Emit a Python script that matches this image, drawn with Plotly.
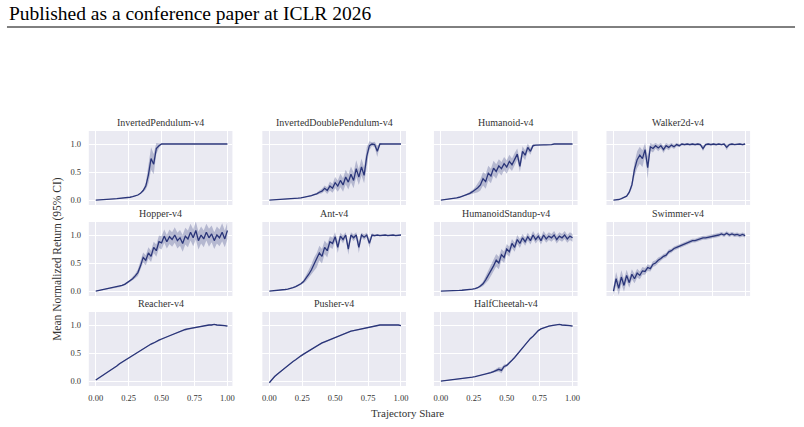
import plotly.graph_objects as go

W, H = 804, 427

X = [0.00, 0.02, 0.04, 0.06, 0.08, 0.10, 0.12, 0.14, 0.16, 0.18,
     0.20, 0.22, 0.24, 0.26, 0.28, 0.30, 0.32, 0.34, 0.36, 0.38,
     0.40, 0.42, 0.44, 0.46, 0.48, 0.50, 0.52, 0.54, 0.56, 0.58,
     0.60, 0.62, 0.64, 0.66, 0.68, 0.70, 0.72, 0.74, 0.76, 0.78,
     0.80, 0.82, 0.84, 0.86, 0.88, 0.90, 0.92, 0.94, 0.96, 0.98,
     1.00]

ENVS = ["InvertedPendulum-v4", "InvertedDoublePendulum-v4", "Humanoid-v4", "Walker2d-v4",
        "Hopper-v4", "Ant-v4", "HumanoidStandup-v4", "Swimmer-v4",
        "Reacher-v4", "Pusher-v4", "HalfCheetah-v4"]

IP_MEAN = [0.000, 0.005, 0.010, 0.012, 0.015, 0.018, 0.020, 0.022, 0.025, 0.028,
           0.032, 0.038, 0.045, 0.050, 0.060, 0.070, 0.090, 0.120, 0.170, 0.250,
           0.450, 0.740, 0.640, 0.920, 0.970, 1.000, 1.000, 1.000, 1.000, 1.000,
           1.000, 1.000, 1.000, 1.000, 1.000, 1.000, 1.000, 1.000, 1.000, 1.000,
           1.000, 1.000, 1.000, 1.000, 1.000, 1.000, 1.000, 1.000, 1.000, 1.000,
           1.000]
IP_CI = [0.000, 0.002, 0.002, 0.002, 0.002, 0.002, 0.003, 0.003, 0.003, 0.003,
         0.004, 0.004, 0.005, 0.005, 0.006, 0.008, 0.010, 0.015, 0.025, 0.060,
         0.150, 0.200, 0.180, 0.100, 0.040, 0.000, 0.000, 0.000, 0.000, 0.000,
         0.000, 0.000, 0.000, 0.000, 0.000, 0.000, 0.000, 0.000, 0.000, 0.000,
         0.000, 0.000, 0.000, 0.000, 0.000, 0.000, 0.000, 0.000, 0.000, 0.000,
         0.000]

IDP_MEAN = [0.000, 0.002, 0.004, 0.006, 0.008, 0.010, 0.013, 0.016, 0.020, 0.024,
            0.028, 0.033, 0.040, 0.047, 0.055, 0.065, 0.080, 0.095, 0.110, 0.140,
            0.160, 0.210, 0.170, 0.250, 0.210, 0.310, 0.250, 0.350, 0.270, 0.410,
            0.320, 0.460, 0.350, 0.560, 0.410, 0.590, 0.440, 0.780, 0.970, 1.000,
            0.990, 0.870, 1.000, 1.000, 1.000, 1.000, 1.000, 1.000, 1.000, 1.000,
            1.000]
IDP_CI = [0.001, 0.002, 0.002, 0.002, 0.002, 0.002, 0.002, 0.002, 0.002, 0.002,
          0.004, 0.004, 0.005, 0.005, 0.006, 0.008, 0.010, 0.015, 0.020, 0.030,
          0.040, 0.050, 0.060, 0.080, 0.080, 0.100, 0.100, 0.120, 0.120, 0.130,
          0.130, 0.140, 0.140, 0.150, 0.140, 0.150, 0.140, 0.160, 0.080, 0.030,
          0.050, 0.100, 0.020, 0.000, 0.000, 0.000, 0.000, 0.000, 0.000, 0.000,
          0.000]

HUM_MEAN = [0.000, 0.005, 0.010, 0.015, 0.022, 0.030, 0.040, 0.050, 0.065, 0.080,
            0.100, 0.120, 0.150, 0.180, 0.220, 0.270, 0.380, 0.330, 0.480, 0.430,
            0.570, 0.510, 0.610, 0.560, 0.650, 0.590, 0.690, 0.630, 0.730, 0.820,
            0.600, 0.870, 0.800, 0.940, 0.870, 0.970, 0.980, 0.985, 0.985, 0.985,
            0.985, 0.985, 0.990, 1.000, 1.000, 1.000, 1.000, 1.000, 1.000, 1.000,
            1.000]
HUM_CI = [0.002, 0.002, 0.003, 0.003, 0.004, 0.005, 0.006, 0.007, 0.008, 0.010,
          0.015, 0.020, 0.030, 0.050, 0.080, 0.100, 0.120, 0.130, 0.130, 0.130,
          0.130, 0.130, 0.120, 0.120, 0.120, 0.120, 0.120, 0.110, 0.110, 0.100,
          0.100, 0.090, 0.090, 0.070, 0.060, 0.030, 0.010, 0.005, 0.005, 0.005,
          0.005, 0.005, 0.005, 0.005, 0.005, 0.005, 0.005, 0.005, 0.005, 0.005,
          0.005]

WAL_MEAN = [0.000, 0.003, 0.010, 0.025, 0.045, 0.070, 0.140, 0.270, 0.550, 0.720,
            0.800, 0.740, 0.900, 0.580, 0.950, 0.920, 0.970, 0.930, 0.970, 0.900,
            0.970, 0.940, 0.980, 0.950, 0.990, 0.970, 1.000, 0.990, 1.000, 0.990,
            1.000, 0.990, 1.000, 0.990, 0.920, 0.990, 1.000, 0.990, 1.000, 0.990,
            1.000, 0.990, 1.000, 0.940, 0.990, 1.000, 0.990, 1.000, 1.000, 0.990,
            1.000]
WAL_CI = [0.002, 0.002, 0.003, 0.004, 0.006, 0.010, 0.030, 0.060, 0.120, 0.150,
          0.150, 0.150, 0.120, 0.200, 0.070, 0.070, 0.050, 0.060, 0.050, 0.060,
          0.050, 0.050, 0.040, 0.040, 0.030, 0.030, 0.020, 0.020, 0.020, 0.020,
          0.020, 0.020, 0.020, 0.020, 0.050, 0.020, 0.020, 0.020, 0.020, 0.020,
          0.015, 0.015, 0.015, 0.050, 0.015, 0.015, 0.015, 0.015, 0.015, 0.015,
          0.015]

HOP_MEAN = [0.000, 0.010, 0.020, 0.030, 0.035, 0.040, 0.050, 0.060, 0.070, 0.080,
            0.100, 0.120, 0.150, 0.180, 0.220, 0.270, 0.330, 0.450, 0.600, 0.550,
            0.680, 0.620, 0.780, 0.720, 0.880, 0.860, 0.980, 0.880, 0.970, 0.920,
            1.000, 0.900, 0.950, 0.850, 0.980, 0.930, 1.050, 0.950, 1.080, 0.900,
            1.000, 0.930, 1.050, 0.950, 1.020, 0.900, 1.000, 0.950, 1.050, 0.930,
            1.080]
HOP_CI = [0.005, 0.005, 0.005, 0.006, 0.006, 0.007, 0.007, 0.008, 0.008, 0.010,
          0.012, 0.015, 0.018, 0.020, 0.030, 0.040, 0.060, 0.080, 0.090, 0.090,
          0.100, 0.100, 0.100, 0.110, 0.110, 0.120, 0.120, 0.120, 0.130, 0.130,
          0.140, 0.140, 0.140, 0.150, 0.150, 0.150, 0.150, 0.150, 0.160, 0.160,
          0.150, 0.150, 0.150, 0.160, 0.150, 0.150, 0.150, 0.150, 0.160, 0.150,
          0.150]

ANT_MEAN = [0.000, 0.003, 0.007, 0.010, 0.015, 0.020, 0.028, 0.035, 0.045, 0.060,
            0.080, 0.100, 0.130, 0.170, 0.230, 0.300, 0.380, 0.480, 0.550, 0.680,
            0.620, 0.780, 0.720, 0.880, 0.850, 0.970, 0.780, 0.980, 0.920, 1.000,
            0.750, 1.000, 0.950, 1.000, 0.780, 1.000, 0.960, 1.000, 0.850, 1.000,
            0.990, 1.000, 0.990, 1.000, 1.000, 0.990, 1.000, 1.000, 0.990, 1.000,
            1.000]
ANT_CI = [0.002, 0.002, 0.002, 0.003, 0.003, 0.004, 0.004, 0.005, 0.006, 0.008,
          0.010, 0.015, 0.020, 0.030, 0.050, 0.080, 0.100, 0.120, 0.130, 0.130,
          0.130, 0.120, 0.120, 0.100, 0.100, 0.080, 0.100, 0.060, 0.070, 0.050,
          0.100, 0.050, 0.060, 0.050, 0.100, 0.040, 0.050, 0.040, 0.080, 0.030,
          0.020, 0.010, 0.010, 0.010, 0.010, 0.010, 0.010, 0.010, 0.010, 0.010,
          0.010]

HSU_MEAN = [0.000, 0.000, 0.002, 0.004, 0.006, 0.008, 0.010, 0.012, 0.015, 0.018,
            0.022, 0.028, 0.035, 0.045, 0.060, 0.090, 0.130, 0.200, 0.280, 0.380,
            0.450, 0.550, 0.500, 0.650, 0.600, 0.750, 0.700, 0.850, 0.780, 0.920,
            0.850, 0.950, 0.880, 0.970, 0.900, 1.000, 0.920, 0.980, 0.900, 1.000,
            0.930, 0.980, 0.950, 1.000, 0.920, 0.980, 0.950, 1.000, 0.930, 0.980,
            0.950]
HSU_CI = [0.001, 0.001, 0.002, 0.002, 0.002, 0.003, 0.003, 0.003, 0.004, 0.004,
          0.005, 0.006, 0.008, 0.010, 0.015, 0.025, 0.040, 0.070, 0.090, 0.110,
          0.110, 0.110, 0.110, 0.100, 0.100, 0.090, 0.090, 0.080, 0.080, 0.080,
          0.080, 0.070, 0.070, 0.070, 0.070, 0.070, 0.070, 0.070, 0.070, 0.070,
          0.070, 0.070, 0.070, 0.070, 0.070, 0.070, 0.070, 0.070, 0.070, 0.070,
          0.070]

SWM_MEAN = [0.000, 0.220, 0.050, 0.250, 0.100, 0.280, 0.150, 0.300, 0.220, 0.320,
            0.280, 0.360, 0.350, 0.420, 0.400, 0.480, 0.500, 0.550, 0.580, 0.620,
            0.640, 0.700, 0.720, 0.760, 0.780, 0.800, 0.820, 0.850, 0.860, 0.880,
            0.900, 0.900, 0.920, 0.930, 0.950, 0.950, 0.960, 0.970, 0.970, 0.990,
            1.000, 1.020, 1.000, 1.030, 1.000, 1.020, 1.000, 1.010, 0.990, 1.010,
            0.990]
SWM_CI = [0.080, 0.120, 0.120, 0.120, 0.110, 0.100, 0.090, 0.090, 0.080, 0.080,
          0.070, 0.070, 0.060, 0.060, 0.050, 0.050, 0.050, 0.050, 0.040, 0.040,
          0.040, 0.040, 0.035, 0.035, 0.035, 0.035, 0.035, 0.035, 0.035, 0.035,
          0.035, 0.035, 0.035, 0.035, 0.035, 0.035, 0.035, 0.035, 0.035, 0.035,
          0.035, 0.035, 0.035, 0.035, 0.035, 0.035, 0.035, 0.035, 0.035, 0.035,
          0.035]

REA_MEAN = [0.020, 0.050, 0.080, 0.110, 0.150, 0.180, 0.210, 0.240, 0.270, 0.310,
            0.340, 0.370, 0.400, 0.430, 0.460, 0.490, 0.520, 0.550, 0.580, 0.600,
            0.630, 0.660, 0.680, 0.710, 0.730, 0.750, 0.770, 0.790, 0.810, 0.830,
            0.850, 0.870, 0.880, 0.900, 0.920, 0.930, 0.940, 0.950, 0.960, 0.970,
            0.980, 0.990, 0.990, 1.000, 1.000, 1.010, 1.000, 1.000, 1.000, 0.990,
            0.980]
REA_CI = [0.010, 0.010, 0.010, 0.010, 0.010, 0.010, 0.010, 0.010, 0.010, 0.010,
          0.010, 0.010, 0.010, 0.010, 0.010, 0.010, 0.010, 0.010, 0.010, 0.010,
          0.010, 0.010, 0.010, 0.010, 0.010, 0.010, 0.010, 0.010, 0.010, 0.010,
          0.010, 0.010, 0.010, 0.010, 0.010, 0.010, 0.010, 0.010, 0.010, 0.010,
          0.010, 0.010, 0.010, 0.010, 0.010, 0.010, 0.010, 0.010, 0.010, 0.010,
          0.010]

PUS_MEAN = [-0.030, 0.030, 0.080, 0.120, 0.160, 0.200, 0.240, 0.280, 0.310, 0.350,
            0.380, 0.420, 0.450, 0.480, 0.510, 0.540, 0.570, 0.600, 0.630, 0.650,
            0.680, 0.700, 0.720, 0.740, 0.760, 0.780, 0.800, 0.820, 0.840, 0.860,
            0.870, 0.890, 0.900, 0.910, 0.930, 0.940, 0.950, 0.960, 0.970, 0.980,
            0.980, 0.990, 1.000, 1.000, 1.000, 1.000, 1.010, 1.000, 1.000, 1.000,
            0.990]
PUS_CI = [0.010, 0.010, 0.010, 0.010, 0.010, 0.010, 0.010, 0.010, 0.010, 0.010,
          0.010, 0.010, 0.010, 0.010, 0.010, 0.010, 0.010, 0.010, 0.010, 0.010,
          0.010, 0.010, 0.010, 0.010, 0.010, 0.010, 0.010, 0.010, 0.010, 0.010,
          0.010, 0.010, 0.010, 0.010, 0.010, 0.010, 0.010, 0.010, 0.010, 0.010,
          0.010, 0.010, 0.010, 0.010, 0.010, 0.010, 0.010, 0.010, 0.010, 0.010,
          0.010]

HCH_MEAN = [0.000, 0.005, 0.010, 0.015, 0.020, 0.025, 0.030, 0.035, 0.040, 0.045,
            0.050, 0.060, 0.070, 0.080, 0.090, 0.100, 0.110, 0.120, 0.140, 0.150,
            0.170, 0.190, 0.210, 0.190, 0.260, 0.280, 0.320, 0.370, 0.420, 0.480,
            0.540, 0.600, 0.650, 0.700, 0.760, 0.800, 0.850, 0.900, 0.930, 0.950,
            0.970, 0.980, 0.990, 1.000, 1.000, 1.010, 1.000, 1.000, 1.000, 0.990,
            0.980]
HCH_CI = [0.005, 0.005, 0.005, 0.005, 0.005, 0.005, 0.005, 0.005, 0.005, 0.005,
          0.005, 0.005, 0.008, 0.008, 0.008, 0.010, 0.010, 0.010, 0.012, 0.015,
          0.020, 0.030, 0.040, 0.050, 0.035, 0.025, 0.020, 0.015, 0.012, 0.010,
          0.010, 0.010, 0.010, 0.010, 0.010, 0.010, 0.010, 0.010, 0.010, 0.010,
          0.010, 0.010, 0.010, 0.010, 0.010, 0.010, 0.010, 0.010, 0.010, 0.010,
          0.010]

MEANS = [IP_MEAN, IDP_MEAN, HUM_MEAN, WAL_MEAN, HOP_MEAN, ANT_MEAN, HSU_MEAN,
         SWM_MEAN, REA_MEAN, PUS_MEAN, HCH_MEAN]
CIS = [IP_CI, IDP_CI, HUM_CI, WAL_CI, HOP_CI, ANT_CI, HSU_CI, SWM_CI,
       REA_CI, PUS_CI, HCH_CI]

X_TICKS = [0.0, 0.25, 0.5, 0.75, 1.0]
X_TICKTEXT = ["0.00", "0.25", "0.50", "0.75", "1.00"]
Y_TICKS = [0.0, 0.5, 1.0]
Y_TICKTEXT = ["0.0", "0.5", "1.0"]

HEADER = "Published as a conference paper at ICLR 2026"
Y_TITLE = "Mean Normalized Return (95% CI)"
X_TITLE = "Trajectory Share"

# ---- styling / layout ----
LINE_COLOR = "#2a3579"
BAND_COLOR = "rgba(42,53,121,0.28)"
BG = "#eaeaf2"
SERIF = "Liberation Serif, Times New Roman, serif"
COL_LEFT = [89, 263, 435, 608]
PANEL_W = 144
ROW_TOP = [131, 222, 312]
PANEL_H = 74
XR = [-0.053, 1.038]
YR = [-0.088, 1.232]

fig = go.Figure()
layout = dict(
    width=W, height=H,
    margin=dict(l=0, r=0, t=0, b=0),
    paper_bgcolor="white", plot_bgcolor=BG,
    showlegend=False,
    font=dict(family=SERIF, color="#333333"),
)
annotations = []

for k, env in enumerate(ENVS):
    r, c = divmod(k, 4)
    n = k + 1
    xa = "x" if n == 1 else f"x{n}"
    ya = "y" if n == 1 else f"y{n}"
    x0 = COL_LEFT[c] / W
    x1 = (COL_LEFT[c] + PANEL_W) / W
    y1 = 1 - ROW_TOP[r] / H
    y0 = 1 - (ROW_TOP[r] + PANEL_H) / H
    m = MEANS[k]
    ci = CIS[k]
    upper = [a + b for a, b in zip(m, ci)]
    lower = [a - b for a, b in zip(m, ci)]
    fig.add_trace(go.Scatter(
        x=X + X[::-1], y=upper + lower[::-1], fill="toself",
        fillcolor=BAND_COLOR, line=dict(width=0), mode="lines",
        hoverinfo="skip", xaxis=xa, yaxis=ya))
    fig.add_trace(go.Scatter(
        x=X, y=m, mode="lines", line=dict(color=LINE_COLOR, width=1.3),
        xaxis=xa, yaxis=ya))
    show_x = k >= 8
    show_y = c == 0
    layout["xaxis" if n == 1 else f"xaxis{n}"] = dict(
        domain=[x0, x1], range=XR, anchor=ya,
        tickvals=X_TICKS, ticktext=X_TICKTEXT, showticklabels=show_x,
        showgrid=True, gridcolor="white", gridwidth=1.1, zeroline=False,
        showline=False, ticks="outside", ticklen=4, tickcolor="rgba(0,0,0,0)",
        tickfont=dict(family=SERIF, size=8.5, color="#333333"),
        fixedrange=True)
    layout["yaxis" if n == 1 else f"yaxis{n}"] = dict(
        domain=[y0, y1], range=YR, anchor=xa,
        tickvals=Y_TICKS, ticktext=Y_TICKTEXT, showticklabels=show_y,
        showgrid=True, gridcolor="white", gridwidth=1.1, zeroline=False,
        showline=False, ticks="outside", ticklen=5, tickcolor="rgba(0,0,0,0)",
        tickfont=dict(family=SERIF, size=8.5, color="#333333"),
        fixedrange=True)
    annotations.append(dict(
        text=env, x=(x0 + x1) / 2, y=y1, xref="paper", yref="paper",
        xanchor="center", yanchor="bottom", yshift=1, showarrow=False,
        font=dict(family=SERIF, size=10, color="#333333")))

annotations.append(dict(
    text=HEADER, x=7 / W, y=1 - 13 / H, xref="paper", yref="paper",
    xanchor="left", yanchor="middle", showarrow=False,
    font=dict(family=SERIF, size=19.5, color="black")))
annotations.append(dict(
    text=Y_TITLE, x=57 / W, y=1 - 259 / H, xref="paper", yref="paper",
    xanchor="center", yanchor="middle", textangle=-90, showarrow=False,
    font=dict(family=SERIF, size=11.5, color="#333333")))
annotations.append(dict(
    text=X_TITLE, x=409 / W, y=1 - 413 / H, xref="paper", yref="paper",
    xanchor="center", yanchor="middle", showarrow=False,
    font=dict(family=SERIF, size=11, color="#333333")))

layout["annotations"] = annotations
layout["shapes"] = [dict(type="line", xref="paper", yref="paper",
                         x0=7 / W, x1=797 / W, y0=1 - 27 / H, y1=1 - 27 / H,
                         line=dict(color="black", width=1))]
fig.update_layout(**layout)
fig.write_html("out.html")
